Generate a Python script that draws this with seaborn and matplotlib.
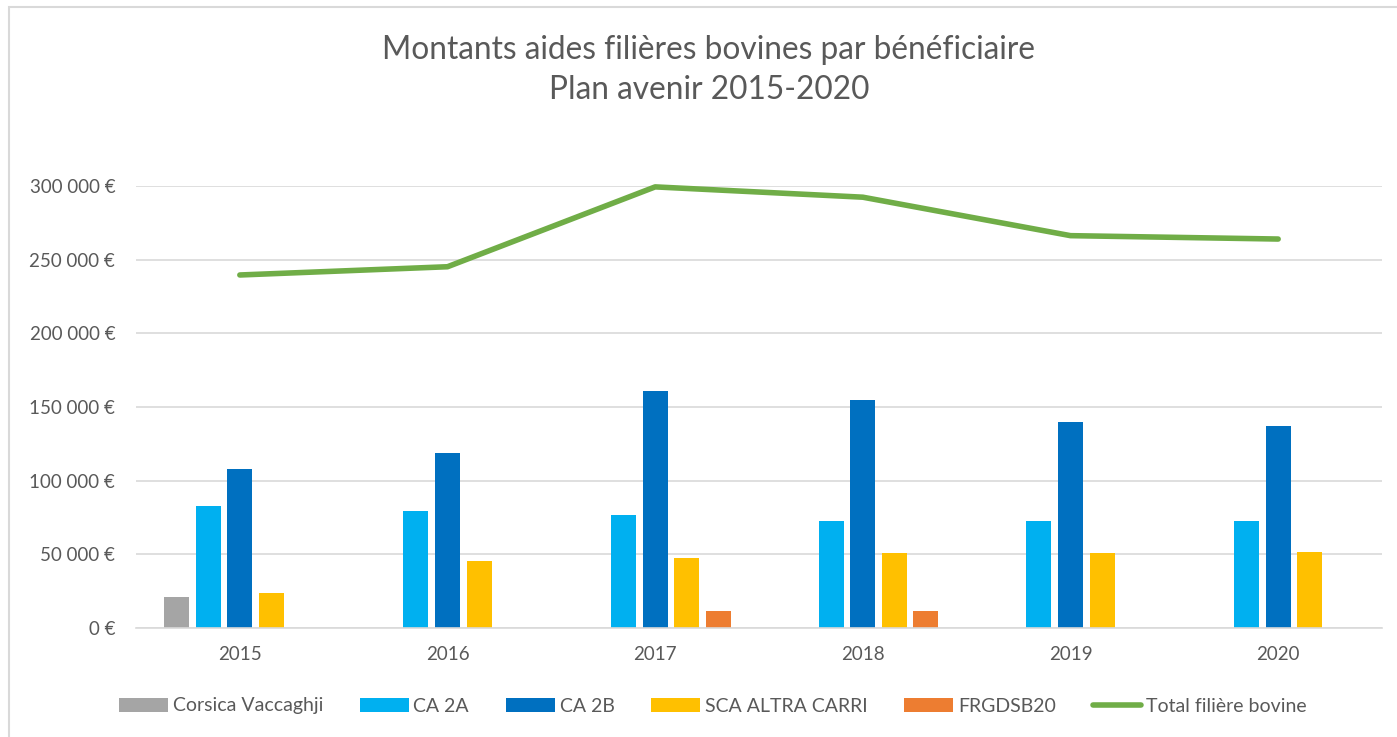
import numpy as np
import pandas as pd
import matplotlib
matplotlib.use("Agg")
import matplotlib.pyplot as plt
from matplotlib.patches import Rectangle
import seaborn as sns

years = ["2015", "2016", "2017", "2018", "2019", "2020"]
corsica_vaccaghji = [20800, np.nan, np.nan, np.nan, np.nan, np.nan]
ca_2a = [82500, 79300, 77000, 72800, 72800, 72800]
ca_2b = [107800, 118800, 161000, 154500, 139800, 137300]
sca_altra_carri = [24000, 45200, 47800, 51000, 51000, 51700]
frgdsb20 = [np.nan, np.nan, 11300, 11300, np.nan, np.nan]
total_filiere = [239600, 245200, 299400, 292400, 266300, 264000]

series_names = ["Corsica Vaccaghji", "CA 2A", "CA 2B", "SCA ALTRA CARRI", "FRGDSB20"]
series_values = [corsica_vaccaghji, ca_2a, ca_2b, sca_altra_carri, frgdsb20]
series_colors = ["#A5A5A5", "#00B0F0", "#0070C0", "#FFC000", "#ED7D31"]
total_label = "Total filière bovine"
title_text = "Montants aides filières bovines par bénéficiaire\nPlan avenir 2015-2020"
yticks = [0, 50000, 100000, 150000, 200000, 250000, 300000]

rows = []
for name, vals in zip(series_names, series_values):
    for y, v in zip(years, vals):
        rows.append({"year": y, "beneficiaire": name, "montant": v})
df = pd.DataFrame(rows)
df_total = pd.DataFrame({"pos": np.arange(len(years)), "montant": total_filiere})

sns.set_theme(style="white")
plt.rcParams["font.family"] = ["Lato", "DejaVu Sans"]
text_color = "#595959"
grid_color = "#D9D9D9"

fig = plt.figure(figsize=(13.97, 7.37), dpi=100)
ax = fig.add_axes([136/1397, 1-628/737, (1382-136)/1397, (628-186)/737])

sns.barplot(data=df, x="year", y="montant", hue="beneficiaire",
            order=years, hue_order=series_names, palette=series_colors,
            width=0.76, gap=0.21, linewidth=0, saturation=1, ax=ax,
            errorbar=None)
sns.lineplot(data=df_total, x="pos", y="montant", color="#70AD47",
             linewidth=4.0, ax=ax, label=total_label,
             solid_capstyle="round")
for ln in ax.lines:
    ln.set_clip_on(False)

ax.set_xlim(-0.5, len(years) - 0.5)
ax.set_ylim(0, 300000)
ax.set_yticks(yticks)
ax.set_yticklabels([("{:,}".format(v).replace(",", " ") + " €") if v else "0 €" for v in yticks])
ax.yaxis.grid(True, color=grid_color, linewidth=1.2)
ax.set_axisbelow(True)
for s in ["top", "right", "left"]:
    ax.spines[s].set_visible(False)
ax.spines["bottom"].set_color(grid_color)
ax.spines["bottom"].set_linewidth(1.2)
ax.tick_params(axis="both", length=0, colors=text_color, labelsize=13.5)
ax.tick_params(axis="y", pad=15)
ax.tick_params(axis="x", pad=13)
ax.set_xlabel("")
ax.set_ylabel("")

handles, labels = ax.get_legend_handles_labels()
if ax.get_legend() is not None:
    ax.get_legend().remove()
order = series_names + [total_label]
hmap = dict(zip(labels, handles))
leg = fig.legend([hmap[l] for l in order], order, loc="center",
                 bbox_to_anchor=(713/1397, 1-706/737), ncol=6, frameon=False,
                 fontsize=14, handlelength=2.5, handletextpad=0.25,
                 columnspacing=1.9, labelcolor=text_color)

fig.text(709/1397, 1-70/737, title_text, ha="center", va="center",
         fontsize=22.8, color=text_color, linespacing=1.4)

fig.patches.append(Rectangle((9/1397, -0.05), 1.2, 1.05 - 7/737,
                             transform=fig.transFigure, fill=False,
                             edgecolor=grid_color, linewidth=1.5))

fig.savefig("out.png", dpi=100)
